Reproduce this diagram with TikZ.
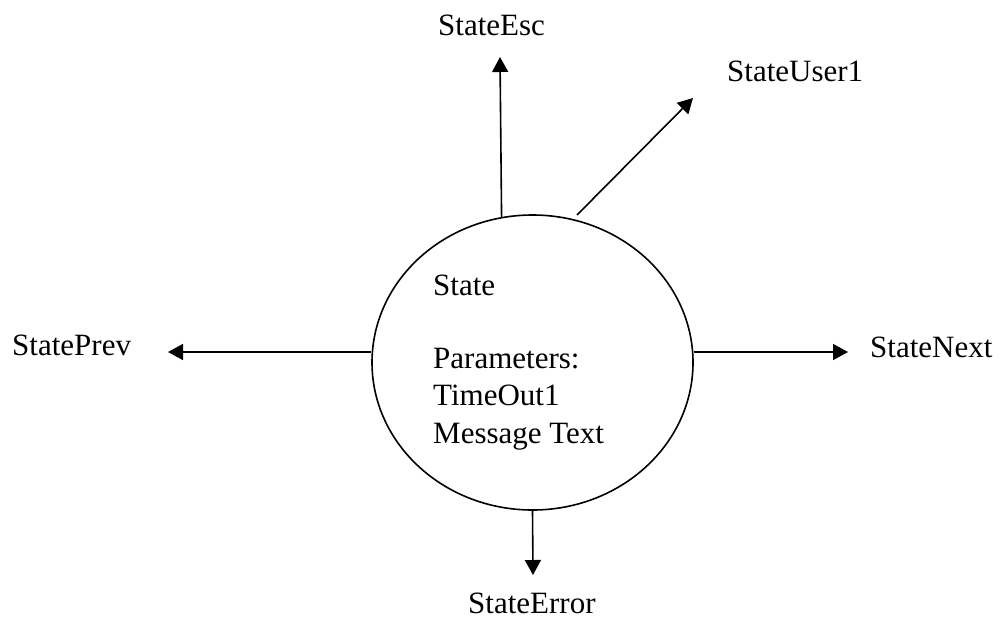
\documentclass[tikz,border=0pt]{standalone}
\usepackage{fontspec}
\setmainfont{Liberation Serif}
\usetikzlibrary{shapes.geometric,arrows.meta}
\tikzset{
  statebody/.style={draw, line width=1.6pt, ellipse, inner sep=0pt,
    minimum width=321pt, minimum height=295pt},
  lbl/.style={inner sep=0pt, anchor=base west, font=\fontsize{31}{37}\selectfont},
  arr/.style={line width=1.6pt, -{Triangle[length=15pt,width=16pt]}}
}
\begin{document}
\begin{tikzpicture}[x=1pt, y=-1pt]
  \useasboundingbox (0,0) rectangle (1000,619);

  % central state
  \node[statebody] (st) at (532.5,362.5) {};
  \node[lbl] (title) at (433,295) {State};
  \node[lbl] (p1) at (433,368) {Parameters:};
  \node[lbl] (p2) at (433,405) {TimeOut1};
  \node[lbl] (p3) at (433,443) {Message Text};

  % target states
  \node[lbl] (prev) at (12,355) {StatePrev};
  \node[lbl] (next) at (870,357) {StateNext};
  \node[lbl] (esc) at (438,35) {StateEsc};
  \node[lbl] (user) at (727,81) {StateUser1};
  \node[lbl] (err) at (468,613) {StateError};

  % arrow tips and free ends
  \coordinate (prevtip) at (168,352);
  \coordinate (nexttip) at (848,352);
  \coordinate (esctip) at (500,57);
  \coordinate (userstart) at (577,215);
  \coordinate (usertip) at (693,98);
  \coordinate (errtip) at (533,575);

  % transitions
  \draw[arr] (prevtip -| st.west) -- (prevtip);
  \draw[arr] (nexttip -| st.east) -- (nexttip);
  \draw[arr] (st.102.7) -- (esctip);
  \draw[arr] (userstart) -- (usertip);
  \draw[arr] (st.south) -- (errtip);
\end{tikzpicture}
\end{document}
